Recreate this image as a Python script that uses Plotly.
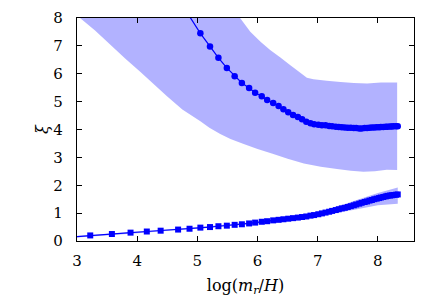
import plotly.graph_objects as go

# ---- data ----
x_grid = [2.85, 3.22, 3.58, 3.89, 4.16, 4.39, 4.68, 4.87, 5.05, 5.21, 5.35, 5.49, 5.62, 5.74,
          5.86, 5.96, 6.07, 6.16, 6.26, 6.35, 6.43, 6.51, 6.59, 6.67, 6.74, 6.81, 6.88, 6.94,
          7.01, 7.07, 7.13, 7.19, 7.24, 7.30, 7.35, 7.40, 7.45, 7.50, 7.55, 7.60, 7.64, 7.69,
          7.73, 7.78, 7.82, 7.86, 7.90, 7.94, 7.98, 8.02, 8.05, 8.09, 8.13, 8.16, 8.20, 8.23,
          8.26, 8.30, 8.33]

xi_low = [0.13, 0.20, 0.25, 0.30, 0.34, 0.37, 0.41, 0.44, 0.48, 0.50, 0.53, 0.55, 0.58, 0.60,
          0.63, 0.66, 0.69, 0.71, 0.74, 0.76, 0.78, 0.80, 0.82, 0.84, 0.86, 0.88, 0.91, 0.93,
          0.96, 0.99, 1.02, 1.05, 1.08, 1.11, 1.14, 1.17, 1.19, 1.22, 1.25, 1.28, 1.31, 1.34,
          1.37, 1.40, 1.42, 1.45, 1.47, 1.50, 1.52, 1.54, 1.56, 1.58, 1.60, 1.62, 1.63, 1.64,
          1.65, 1.66, 1.67]

x_up = [4.68, 5.05, 5.21, 5.35, 5.49, 5.62, 5.74, 5.86, 5.96, 6.07, 6.16, 6.26, 6.35, 6.43,
        6.51, 6.59, 6.67, 6.74, 6.81, 6.88, 6.94, 7.01, 7.07, 7.13, 7.19, 7.24, 7.30, 7.35,
        7.40, 7.45, 7.50, 7.55, 7.60, 7.64, 7.69, 7.73, 7.78, 7.82, 7.86, 7.90, 7.94, 7.98,
        8.02, 8.05, 8.09, 8.13, 8.16, 8.20, 8.23, 8.26, 8.30, 8.33]
xi_up = [8.70, 7.45, 6.98, 6.57, 6.21, 5.91, 5.67, 5.49, 5.32, 5.19, 5.06, 4.95, 4.84, 4.73,
         4.62, 4.52, 4.45, 4.37, 4.28, 4.22, 4.19, 4.17, 4.15, 4.15, 4.13, 4.12, 4.10, 4.09,
         4.08, 4.07, 4.06, 4.06, 4.05, 4.05, 4.04, 4.04, 4.05, 4.05, 4.06, 4.07, 4.07, 4.08,
         4.08, 4.09, 4.09, 4.10, 4.10, 4.11, 4.11, 4.12, 4.12, 4.12]

# uncertainty band of the upper series (lower edge)
band_up_x = [2.85, 3.05, 3.30, 3.55, 3.80, 4.05, 4.30, 4.50, 4.75, 5.05, 5.20, 5.38, 5.55,
             5.77, 6.00, 6.25, 6.50, 6.77, 7.05, 7.32, 7.55, 7.76, 7.95, 8.15, 8.32]
band_up_lo = [8.35, 8.00, 7.55, 7.05, 6.55, 6.07, 5.58, 5.18, 4.72, 4.30, 4.06, 3.84, 3.66,
              3.48, 3.30, 3.13, 2.95, 2.78, 2.66, 2.58, 2.52, 2.48, 2.50, 2.56, 2.55]
# uncertainty band of the upper series (upper edge)
band_up_hi_x = [2.85, 4.00, 5.00, 5.40, 5.71, 5.88, 6.05, 6.21, 6.38, 6.54, 6.70, 6.82, 6.93,
                7.15, 7.38, 7.60, 7.82, 8.05, 8.32]
band_up_hi = [12.0, 10.5, 9.2, 8.6, 8.0, 7.51, 7.15, 6.85, 6.58, 6.31, 6.05, 5.86, 5.80,
              5.75, 5.70, 5.67, 5.65, 5.69, 5.69]

# uncertainty band of the lower series
band_lo_x = [2.85, 4.00, 5.00, 6.00, 6.50, 7.00, 7.50, 8.00, 8.33]
band_lo_hi = [0.16, 0.33, 0.50, 0.69, 0.84, 1.01, 1.36, 1.72, 1.92]
band_lo_lo = [0.10, 0.28, 0.45, 0.63, 0.76, 0.90, 1.08, 1.28, 1.34]

x_ticks = [3, 4, 5, 6, 7, 8]
y_ticks = [0, 1, 2, 3, 4, 5, 6, 7, 8]

BLUE = "#0000ff"
FILL = "rgba(0,0,255,0.30)"
FONT = "DejaVu Serif"

fig = go.Figure()

fig.add_trace(go.Scatter(
    x=band_up_hi_x + band_up_x[::-1],
    y=band_up_hi + band_up_lo[::-1],
    fill="toself", fillcolor=FILL, mode="none", hoverinfo="skip", showlegend=False))

fig.add_trace(go.Scatter(
    x=band_lo_x + band_lo_x[::-1],
    y=band_lo_hi + band_lo_lo[::-1],
    fill="toself", fillcolor=FILL, mode="none", hoverinfo="skip", showlegend=False))

fig.add_trace(go.Scatter(
    x=x_up, y=xi_up, mode="lines+markers",
    line=dict(color=BLUE, width=1.2),
    marker=dict(symbol="circle", size=6.5, color=BLUE),
    showlegend=False))

fig.add_trace(go.Scatter(
    x=x_grid, y=xi_low, mode="lines+markers",
    line=dict(color=BLUE, width=1.2),
    marker=dict(symbol="square", size=6, color=BLUE),
    showlegend=False))

axis_common = dict(
    showline=True, linecolor="black", linewidth=1.3, mirror="ticks",
    ticks="inside", ticklen=5, tickwidth=1, tickcolor="black",
    showgrid=False, zeroline=False, automargin=False,
    tickfont=dict(family=FONT, size=15, color="black"),
)

fig.update_xaxes(range=[3, 8.6], tickvals=x_ticks, ticklabelstandoff=6,
                 title=dict(text="log(<i>m</i><sub><i>r</i></sub>/<i>H</i>)",
                            font=dict(family=FONT, size=16, color="black"), standoff=10),
                 **axis_common)
fig.update_yaxes(range=[0, 8], tickvals=y_ticks, ticklabelstandoff=10,
                 title=dict(text="<i>ξ</i>",
                            font=dict(family=FONT, size=16, color="black"), standoff=0),
                 **axis_common)

fig.update_layout(
    width=436, height=305,
    margin=dict(l=77, r=22, t=18, b=64),
    paper_bgcolor="white", plot_bgcolor="white",
    font=dict(family=FONT, color="black"),
)

fig.write_html("out.html", config={"displayModeBar": False},
               post_script="document.body.style.margin='0px';")
